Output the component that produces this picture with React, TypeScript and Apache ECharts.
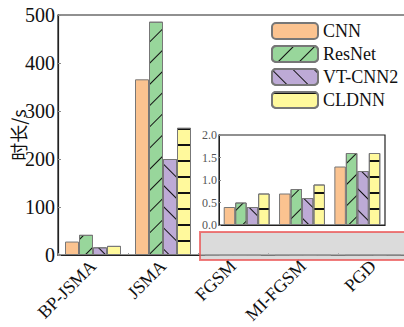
import React, { useEffect, useRef } from "react";
import * as echarts from "echarts";

const categories = ["BP-JSMA", "JSMA", "FGSM", "MI-FGSM", "PGD"];
const insetCategories = ["FGSM", "MI-FGSM", "PGD"];
const seriesNames = ["CNN", "ResNet", "VT-CNN2", "CLDNN"];
const cnn = [28, 366, 0.4, 0.7, 1.3];
const resnet = [42, 486, 0.5, 0.8, 1.6];
const vtcnn2 = [16, 200, 0.4, 0.6, 1.2];
const cldnn = [19, 265, 0.7, 0.9, 1.6];
const mainTicks = [0, 100, 200, 300, 400, 500];
const insetTicks = [0, 0.5, 1.0, 1.5, 2.0];

const colors = ["#FBC390", "#98D69B", "#BDAAD6", "#FFF99C"];
const serif = "Liberation Serif";

const decals: any[] = [
  null,
  { symbol: "rect", symbolSize: 1, dashArrayX: [1, 0], dashArrayY: [0.9, 14], rotation: -Math.PI / 4, color: "#111" },
  { symbol: "rect", symbolSize: 1, dashArrayX: [1, 0], dashArrayY: [0.9, 14], rotation: Math.PI / 4, color: "#111" },
  { symbol: "rect", symbolSize: 1, dashArrayX: [1, 0], dashArrayY: [1.2, 13.8], rotation: 0, color: "#111" },
];

export default function App() {
  const ref = useRef<HTMLDivElement>(null);
  useEffect(() => {
    const chart = echarts.init(ref.current!, null, { renderer: "svg" });
    const all = [cnn, resnet, vtcnn2, cldnn];
    const mainSeries = all.map((d, i) => ({
      name: seriesNames[i],
      type: "bar",
      xAxisIndex: 0,
      yAxisIndex: 0,
      data: d,
      barGap: "0%",
      barCategoryGap: "20%",
      itemStyle: {
        color: colors[i],
        borderColor: "#777",
        borderWidth: 1,
        decal: decals[i] || undefined,
      },
    }));
    const insetSeries = all.map((d, i) => ({
      name: seriesNames[i],
      type: "bar",
      xAxisIndex: 1,
      yAxisIndex: 1,
      data: d.slice(2),
      barGap: "0%",
      barCategoryGap: "17%",
      itemStyle: {
        color: colors[i],
        borderColor: "#777",
        borderWidth: 1,
        decal: decals[i] || undefined,
      },
    }));
    chart.setOption({
      animation: false,
      aria: { enabled: false, decal: { show: true } },
      textStyle: { fontFamily: serif },
      legend: {
        data: seriesNames,
        orient: "vertical",
        left: 266,
        top: 17,
        itemWidth: 46,
        itemHeight: 16,
        itemGap: 5,
        textStyle: { fontFamily: serif, fontSize: 18, color: "#111" },
      },
      grid: [
        { left: 58, top: 15, right: -4, bottom: 72, show: true, borderColor: "#222", borderWidth: 1.2, containLabel: false, outerBoundsMode: "none" },
        { left: 219, top: 135, width: 166, height: 90, show: true, borderColor: "#222", borderWidth: 1.2, backgroundColor: "#fff", containLabel: false, outerBoundsMode: "none" },
      ],
      xAxis: [
        {
          type: "category",
          gridIndex: 0,
          data: categories,
          axisLine: { lineStyle: { color: "#222", width: 1.2 } },
          axisTick: { show: true, inside: true, length: 2, lineStyle: { color: "#999" } },
          axisLabel: { rotate: 45, fontFamily: serif, fontSize: 18, color: "#111", margin: 8 },
        },
        {
          type: "category",
          gridIndex: 1,
          data: insetCategories,
          axisLine: { lineStyle: { color: "#222" } },
          axisTick: { show: false },
          axisLabel: { show: false },
        },
      ],
      yAxis: [
        {
          type: "value",
          gridIndex: 0,
          min: mainTicks[0],
          max: mainTicks[mainTicks.length - 1],
          interval: 100,
          name: "时长/s",
          nameLocation: "middle",
          nameGap: 31,
          nameMoveOverlap: false,
          nameTextStyle: { fontFamily: "Noto Sans CJK SC", fontSize: 18, color: "#111" },
          axisLine: { show: true, lineStyle: { color: "#222", width: 1.2 } },
          axisTick: { show: true, inside: true, length: 3, lineStyle: { color: "#888" } },
          splitLine: { show: false },
          axisLabel: { fontFamily: serif, fontSize: 20, color: "#111", margin: 3 },
        },
        {
          type: "value",
          gridIndex: 1,
          min: insetTicks[0],
          max: insetTicks[insetTicks.length - 1],
          interval: 0.5,
          axisLine: { show: true, lineStyle: { color: "#222" } },
          axisTick: { show: true, inside: true, length: 2, lineStyle: { color: "#888" } },
          splitLine: { show: false },
          axisLabel: {
            fontFamily: serif,
            fontSize: 12,
            color: "#555",
            margin: 2,
            formatter: (v: number) => v.toFixed(1),
          },
        },
      ],
      series: [...mainSeries, ...insetSeries],
      graphic: [
        {
          type: "rect",
          shape: { x: 200, y: 232, width: 210, height: 28 },
          style: { fill: "rgba(190,190,190,0.55)", stroke: "rgba(235,80,80,0.75)", lineWidth: 2 },
          z: 100,
        },
      ],
    });
    return () => chart.dispose();
  }, []);
  return <div ref={ref} style={{ width: 404, height: 327, position: "absolute", left: 0, top: 0 }} />;
}
